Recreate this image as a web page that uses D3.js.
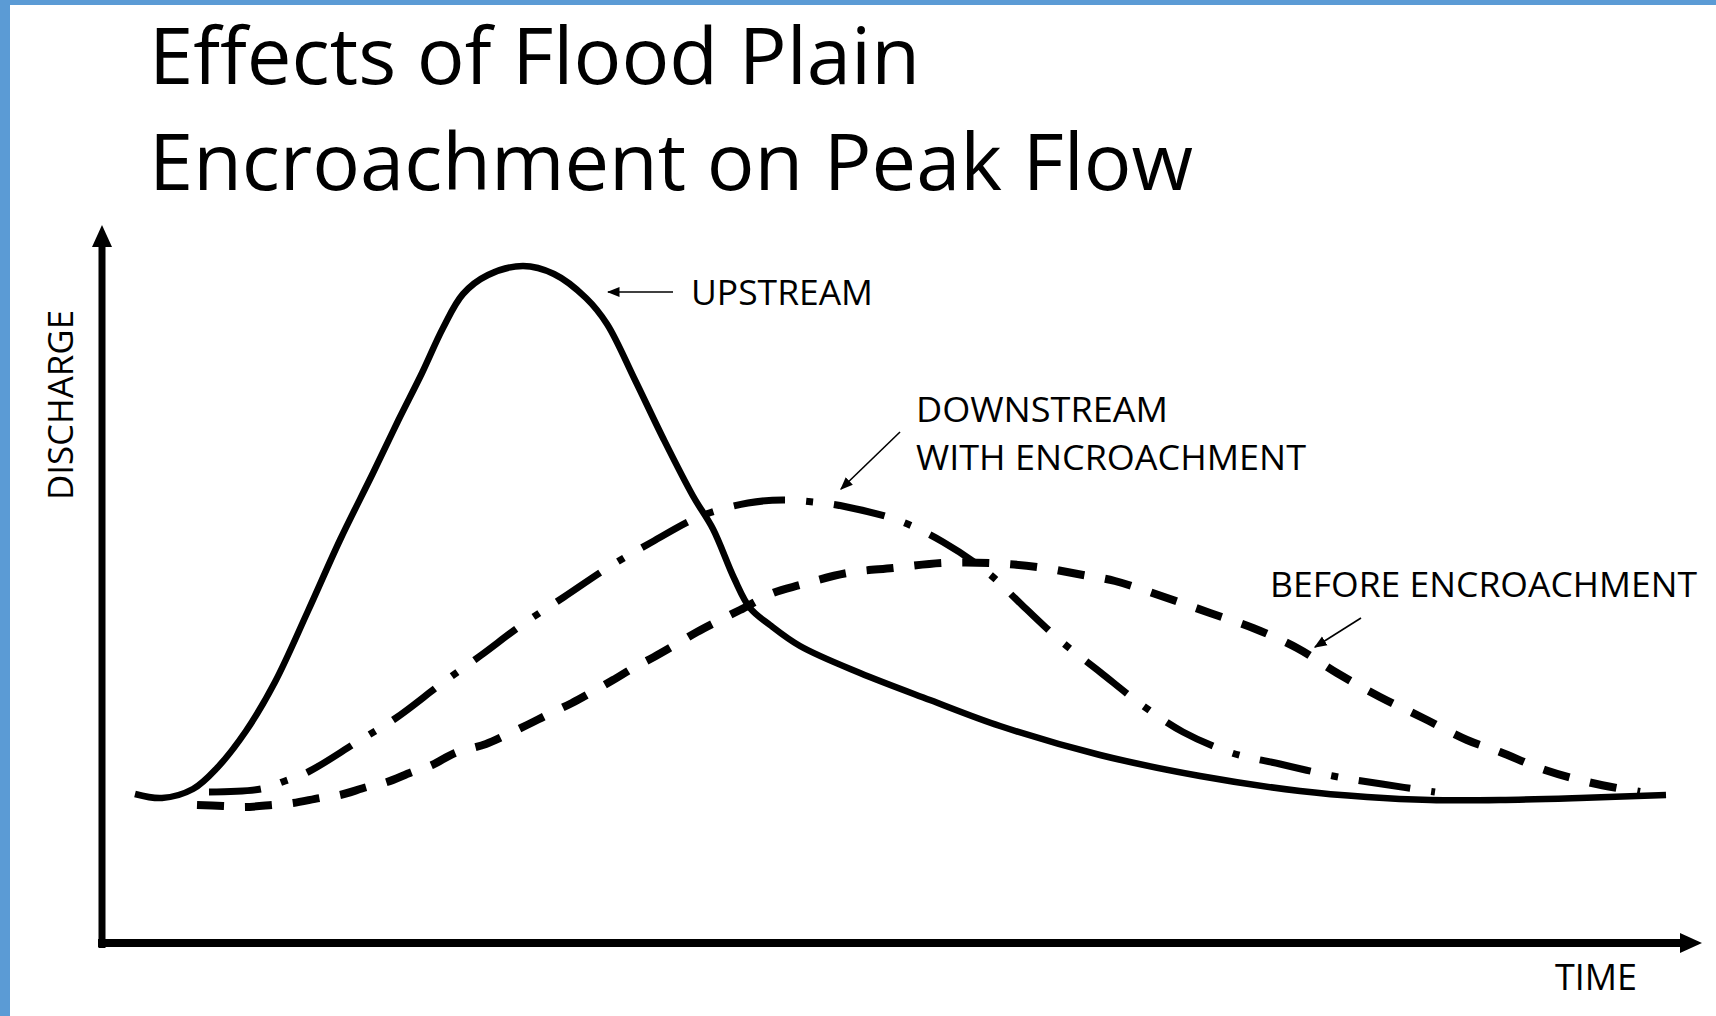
<!DOCTYPE html>
<html>
<head>
<meta charset="utf-8">
<script src="https://cdn.jsdelivr.net/npm/d3@7"></script>
<style>
  html, body { margin: 0; padding: 0; background: #fff; }
  svg { display: block; }
  text { font-family: "Open Sans", "Noto Sans", sans-serif; fill: #000; }
</style>
</head>
<body>
<svg id="chart" width="1716" height="1016"></svg>
<script>
// ---------------- DATA (time, discharge in arbitrary units) ----------------
const titleLines = ["Effects of Flood Plain", "Encroachment on Peak Flow"];
const xLabel = "TIME";
const yLabel = "DISCHARGE";

const upstreamT = [3.3, 6.0, 9.1, 11.5, 14.4, 17.3, 20.6, 23.8, 27.1, 29.6, 32.0, 34.1, 36.1, 38.6, 42.1, 45.2, 48.4, 50.5, 53.3, 56.2, 59.1, 61.1, 63.2, 64.8, 66.8, 69.8, 75.8, 82.8, 89.8, 99.8, 109.8, 119.8, 126.5, 132.8, 139.8, 147.8, 156.4];
const upstreamQ = [14.9, 14.5, 15.4, 17.5, 21.2, 26.1, 33.2, 40.3, 47.0, 52.2, 57.0, 61.5, 64.9, 66.8, 67.7, 66.9, 64.5, 61.9, 56.3, 50.3, 44.7, 41.4, 36.5, 33.5, 31.8, 29.7, 27.0, 24.3, 21.7, 18.8, 16.7, 15.2, 14.6, 14.3, 14.3, 14.5, 14.8];

const downstreamT = [10.7, 15.9, 18.3, 20.6, 25.5, 29.4, 33.9, 37.8, 42.1, 46.2, 50.7, 55.0, 59.9, 64.6, 68.1, 72.0, 74.5, 79.5, 84.1, 88.5, 92.0, 96.0, 99.8, 104.0, 108.1, 113.0, 117.8, 123.1, 128.0, 133.3];
const downstreamQ = [15.1, 15.4, 16.2, 17.1, 20.1, 22.5, 25.9, 28.7, 31.9, 34.6, 37.6, 40.1, 42.7, 44.0, 44.3, 44.0, 43.6, 42.3, 40.1, 37.1, 33.8, 30.1, 27.1, 23.8, 21.1, 19.0, 17.9, 16.7, 15.9, 15.1];

const beforeT = [9.5, 12.1, 14.3, 17.0, 19.1, 21.8, 23.8, 26.5, 28.5, 31.0, 33.0, 35.3, 38.4, 40.4, 42.5, 44.7, 47.0, 49.0, 51.1, 53.3, 55.2, 57.3, 59.5, 61.6, 63.8, 67.1, 69.8, 74.5, 79.1, 84.1, 88.8, 93.5, 98.1, 101.3, 107.1, 110.8, 115.1, 119.5, 123.5, 127.8, 132.1, 136.5, 139.8, 144.3, 149.0, 153.8];
const beforeQ = [13.8, 13.7, 13.6, 13.8, 14.0, 14.5, 14.8, 15.6, 16.1, 17.1, 17.8, 19.0, 19.9, 20.8, 21.8, 22.9, 24.0, 25.1, 26.3, 27.6, 28.6, 29.8, 31.1, 32.2, 33.3, 35.0, 35.8, 37.0, 37.5, 38.0, 38.0, 37.6, 36.8, 36.2, 34.3, 33.0, 31.5, 29.5, 27.0, 24.6, 22.5, 20.3, 19.1, 17.3, 16.0, 15.1];

// annotation labels: lines, anchor of text (t,q), arrow start (t,q), arrow tip (t,q)
const annoLabels = [["UPSTREAM"], ["DOWNSTREAM", "WITH ENCROACHMENT"], ["BEFORE ENCROACHMENT"]];
const annoTextT = [58.9, 81.4, 116.8];
const annoTextQ = [63.8, 52.1, 34.6];
const annoArrowFromT = [57.1, 79.8, 125.9];
const annoArrowFromQ = [65.1, 51.1, 32.5];
const annoArrowToT = [50.6, 73.9, 121.3];
const annoArrowToQ = [65.1, 45.4, 29.6];

// ---------------- LAYOUT ----------------
const svg = d3.select("#chart");
const W = 1716, H = 1016;

// frame accent
svg.append("rect").attr("x", 0).attr("y", 0).attr("width", 10).attr("height", H).attr("fill", "#5B9BD5");
svg.append("rect").attr("x", 0).attr("y", 0).attr("width", W).attr("height", 5).attr("fill", "#5B9BD5");

const x = d3.scaleLinear().domain([0, 160]).range([102, 1702]);
const y = d3.scaleLinear().domain([0, 72]).range([943, 223]);

// title
const titleBase = [84, 190];
const titleLen = [771, 1044];
titleLines.forEach((t, i) => {
  svg.append("text")
    .attr("x", 149).attr("y", titleBase[i])
    .attr("font-size", 78)
    .attr("textLength", titleLen[i]).attr("lengthAdjust", "spacingAndGlyphs")
    .text(t);
});

// axes (arrows)
const axisG = svg.append("g");
axisG.append("line")
  .attr("x1", x(0)).attr("y1", y(0) + 5)
  .attr("x2", x(0)).attr("y2", y(72) + 22)
  .attr("stroke", "#000").attr("stroke-width", 7);
axisG.append("path")
  .attr("d", `M${x(0)},${y(72) + 2} L${x(0) - 10},${y(72) + 24} L${x(0) + 10},${y(72) + 24} Z`)
  .attr("fill", "#000");
axisG.append("line")
  .attr("x1", x(0) - 4).attr("y1", y(0))
  .attr("x2", x(160) - 22).attr("y2", y(0))
  .attr("stroke", "#000").attr("stroke-width", 8);
axisG.append("path")
  .attr("d", `M${x(160)},${y(0)} L${x(160) - 22},${y(0) - 10} L${x(160) - 22},${y(0) + 10} Z`)
  .attr("fill", "#000");

// axis labels
svg.append("text")
  .attr("x", 1555).attr("y", 990)
  .attr("font-size", 36)
  .attr("textLength", 82).attr("lengthAdjust", "spacingAndGlyphs")
  .text(xLabel);
svg.append("text")
  .attr("transform", "translate(73,500) rotate(-90)")
  .attr("font-size", 35)
  .attr("textLength", 190).attr("lengthAdjust", "spacingAndGlyphs")
  .text(yLabel);

// curves
const line = d3.line()
  .x(d => x(d[0])).y(d => y(d[1]))
  .curve(d3.curveCatmullRom.alpha(0.5));

const series = [
  { t: upstreamT, q: upstreamQ, dash: null, w: 6.5 },
  { t: downstreamT, q: downstreamQ, dash: "52,21,7,21", w: 7 },
  { t: beforeT, q: beforeQ, dash: "27,21", w: 8 }
];
series.forEach(s => {
  const pts = s.t.map((t, i) => [t, s.q[i]]);
  svg.append("path")
    .attr("d", line(pts))
    .attr("fill", "none")
    .attr("stroke", "#000")
    .attr("stroke-width", s.w)
    .attr("stroke-linecap", "butt")
    .attr("stroke-linejoin", "round")
    .attr("stroke-dasharray", s.dash);
});

// annotations
const defs = svg.append("defs");
defs.append("marker")
  .attr("id", "ah").attr("viewBox", "0 0 10 10")
  .attr("refX", 9).attr("refY", 5)
  .attr("markerWidth", 8).attr("markerHeight", 8)
  .attr("markerUnits", "strokeWidth")
  .attr("orient", "auto")
  .append("path").attr("d", "M0,1 L10,5 L0,9 Z").attr("fill", "#000");

const annoWidths = [[182], [252], [427]];
annoWidths[1].push(390);
annoLabels.forEach((lines, i) => {
  lines.forEach((l, j) => {
    svg.append("text")
      .attr("x", x(annoTextT[i]))
      .attr("y", y(annoTextQ[i]) + j * 48)
      .attr("font-size", 35)
      .attr("textLength", annoWidths[i][j]).attr("lengthAdjust", "spacingAndGlyphs")
      .text(l);
  });
  svg.append("line")
    .attr("x1", x(annoArrowFromT[i])).attr("y1", y(annoArrowFromQ[i]))
    .attr("x2", x(annoArrowToT[i])).attr("y2", y(annoArrowToQ[i]))
    .attr("stroke", "#000").attr("stroke-width", 1.6)
    .attr("marker-end", "url(#ah)");
});
</script>
</body>
</html>
